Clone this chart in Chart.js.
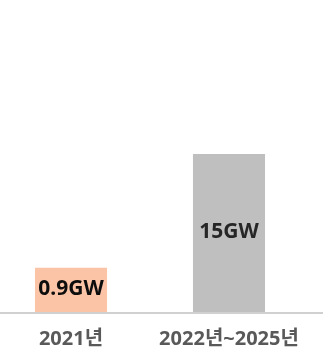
<!DOCTYPE html>
<html lang="ko">
<head>
<meta charset="utf-8">
<title>태양광 설치 용량</title>
<script src="https://cdn.jsdelivr.net/npm/chart.js@4.4.1/dist/chart.umd.min.js"></script>
<style>
  html, body { margin: 0; padding: 0; background: #ffffff; }
  #wrap { position: relative; width: 323px; height: 350px; overflow: hidden; }
  #chart { position: absolute; left: -8px; top: 0; }
</style>
</head>
<body>
<div id="wrap"><canvas id="chart" width="339" height="350"></canvas></div>
<script>
// Periods and installed capacity (GW)
const periods = ['2021년', '2022년~2025년'];
const capacityGW = [0.9, 15];
const barColors = ['#FBC4A6', '#BFBFBF'];
const valueColors = ['#0D0D0D', '#262626'];
const unit = 'GW';

const FONT = "'Noto Sans', 'Noto Sans CJK KR', sans-serif";

// Writes each bar's value in the middle of the bar
const valueLabels = {
  id: 'valueLabels',
  afterDatasetsDraw(chart) {
    const ctx = chart.ctx;
    const meta = chart.getDatasetMeta(0);
    ctx.save();
    ctx.font = `bold 21px ${FONT}`;
    ctx.textAlign = 'center';
    ctx.textBaseline = 'middle';
    meta.data.forEach((bar, i) => {
      ctx.fillStyle = valueColors[i];
      ctx.fillText(capacityGW[i] + unit, bar.x, (bar.y + bar.base) / 2 - 1);
    });
    ctx.restore();
  }
};

// Baseline across the whole width at the bottom of the value axis
const baseline = {
  id: 'baseline',
  afterDatasetsDraw(chart) {
    const ctx = chart.ctx;
    const y = chart.scales.y.getPixelForValue(chart.scales.y.min);
    ctx.save();
    ctx.strokeStyle = '#D0D0D0';
    ctx.lineWidth = 2;
    ctx.beginPath();
    ctx.moveTo(0, y + 1);
    ctx.lineTo(chart.width, y + 1);
    ctx.stroke();
    ctx.restore();
  }
};

new Chart(document.getElementById('chart'), {
  type: 'bar',
  data: {
    labels: periods,
    datasets: [{
      data: capacityGW,
      backgroundColor: barColors,
      borderWidth: 0,
      categoryPercentage: 1,
      barPercentage: 0.456
    }]
  },
  options: {
    responsive: false,
    devicePixelRatio: 1,
    animation: false,
    layout: { padding: { top: 154, left: 0, right: 23, bottom: 0 } },
    plugins: {
      legend: { display: false },
      tooltip: { enabled: false }
    },
    scales: {
      x: {
        grid: { display: false },
        border: { display: false },
        ticks: {
          color: '#595959',
          padding: 7,
          font: { family: FONT, size: 20, weight: 'bold' }
        },
        afterFit(scale) { scale.height = 38; }
      },
      y: {
        type: 'logarithmic',
        display: false,
        min: 0.3,
        max: 15
      }
    }
  },
  plugins: [valueLabels, baseline]
});
</script>
</body>
</html>
